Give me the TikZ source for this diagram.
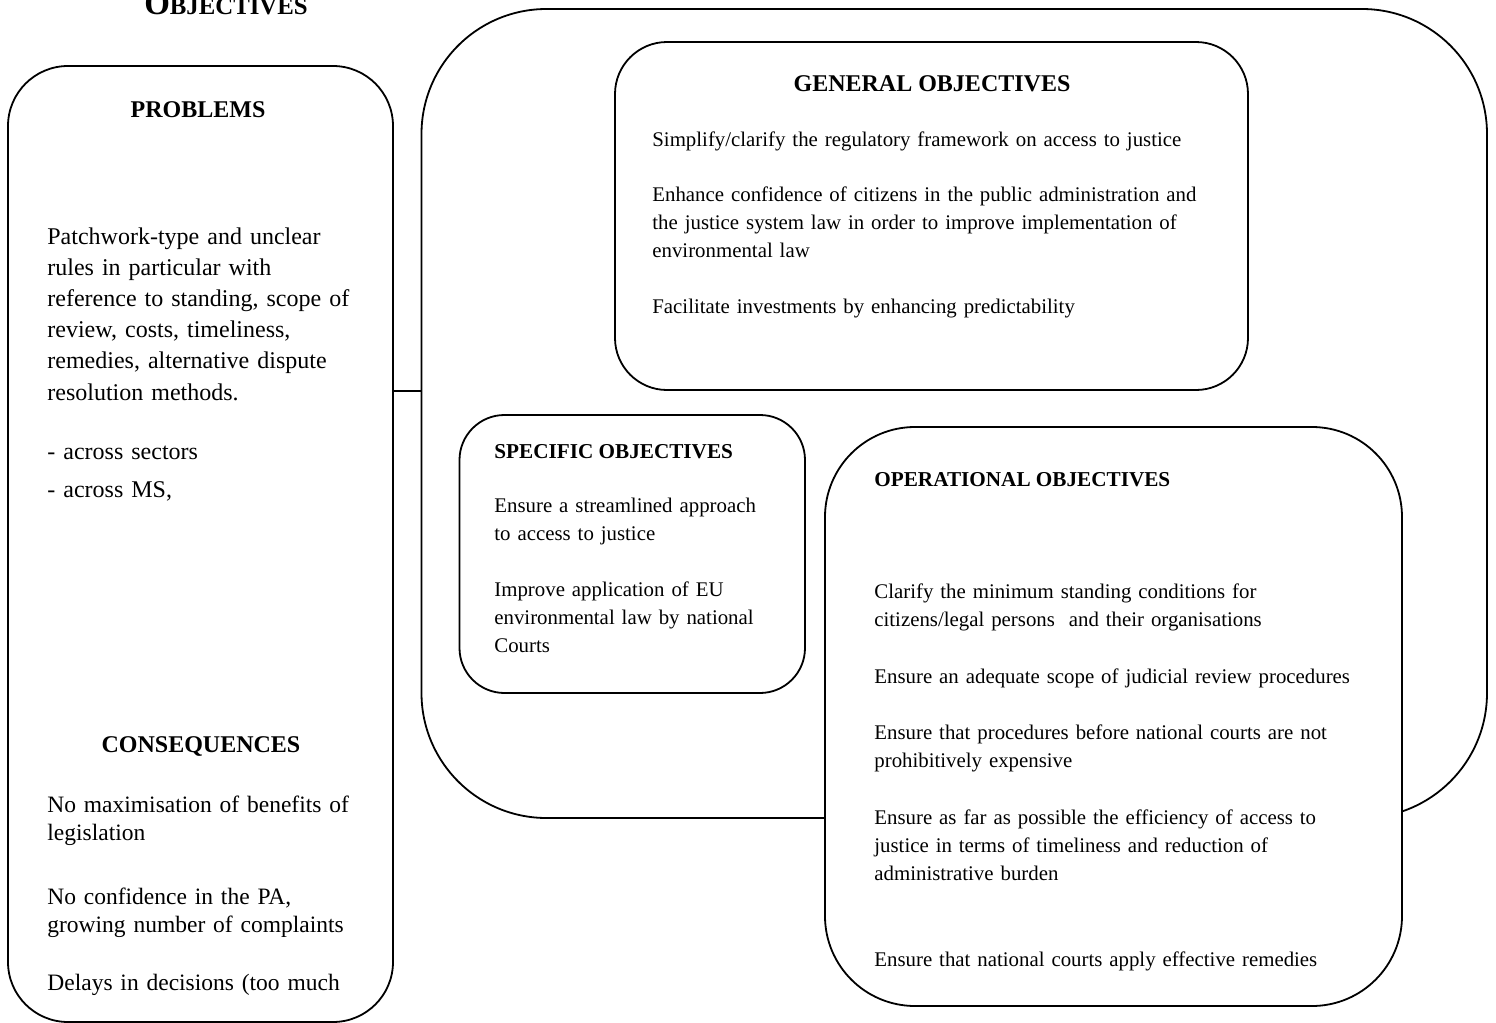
\documentclass[tikz,border=0pt]{standalone}
\usepackage{fontspec}
\setmainfont{Liberation Serif}

\begin{document}
\begin{tikzpicture}[x=0.5pt,y=-0.5pt,
  box/.style={draw,line width=0.9pt,inner sep=0pt,outer sep=0pt,fill=white},
  txt/.style={inner sep=0pt,anchor=base west,align=left,text width=300pt,font=\fontsize{10.42}{14}\selectfont},
  bigtxt/.style={txt,font=\fontsize{12}{15.6}\selectfont},
  constxt/.style={txt,font=\fontsize{11.75}{14}\selectfont},
  head/.style={inner sep=0pt,anchor=base,font=\fontsize{12}{14}\selectfont\bfseries},
  subhead/.style={inner sep=0pt,anchor=base west,font=\fontsize{10.6}{14}\selectfont\bfseries}]

\useasboundingbox (0,0) rectangle (1496,1023);

\node[inner sep=0pt,anchor=base,font=\bfseries] (title) at (226,14) {\fontsize{16.5}{18}\selectfont O\fontsize{12.4}{14}\selectfont BJECTIVES};

% left column
\node[box,rounded corners=30pt,minimum width=192.5pt,minimum height=478pt] (problems) at (200.5,544) {};
\node[head] (probhead) at (198,117) {PROBLEMS};
\node[bigtxt] (probtext) at (47,244) {Patchwork-type and unclear\\rules in particular with\\reference to standing, scope of\\review, costs, timeliness,\\remedies, alternative dispute\\resolution methods.};
\node[bigtxt] (sectors) at (47,459) {- across sectors};
\node[bigtxt] (states) at (47,497) {- across MS,};
\node[head] (conshead) at (201,752) {CONSEQUENCES};
\node[constxt] (cons1) at (47,812) {No maximisation of benefits of\\legislation};
\node[constxt] (cons2) at (47,904) {No confidence in the PA,\\growing number of complaints};
\node[constxt] (cons3) at (47,990) {Delays in decisions (too much};

% objectives
\node[box,rounded corners=62.5pt,minimum width=532.75pt,minimum height=404.5pt] (objectives) at (954.25,413.5) {};
\coordinate (link) at (0,391);
\draw[line width=0.9pt] (problems.east |- link) -- (objectives.west |- link);

\node[box,rounded corners=26pt,minimum width=316.5pt,minimum height=174pt] (general) at (931.5,216) {};
\node[head] (genhead) at (932,91) {GENERAL OBJECTIVES};
\node[txt] (gen1) at (652,146) {Simplify/clarify the regulatory framework on access to justice};
\node[txt] (gen2) at (652,201) {Enhance confidence of citizens in the public administration and\\the justice system law in order to improve implementation of\\environmental law};
\node[txt] (gen3) at (652,313) {Facilitate investments by enhancing predictability};

\node[box,rounded corners=22.5pt,minimum width=172.75pt,minimum height=139pt] (specific) at (632.25,554) {};
\node[subhead] (spechead) at (494,458) {SPECIFIC OBJECTIVES};
\node[txt] (spec1) at (494,512) {Ensure a streamlined approach\\to access to justice};
\node[txt] (spec2) at (494,596) {Improve application of EU\\environmental law by national\\Courts};

\node[box,rounded corners=45pt,minimum width=288.5pt,minimum height=289.5pt] (operational) at (1113.5,716.5) {};
\node[subhead] (ophead) at (874,486) {OPERATIONAL OBJECTIVES};
\node[txt] (op1) at (874,598) {Clarify the minimum standing conditions for\\citizens/legal persons~ and their organisations};
\node[txt] (op2) at (874,683) {Ensure an adequate scope of judicial review procedures};
\node[txt] (op3) at (874,739) {Ensure that procedures before national courts are not\\prohibitively expensive};
\node[txt] (op4) at (874,824) {Ensure as far as possible the efficiency of access to\\justice in terms of timeliness and reduction of\\administrative burden};
\node[txt] (op5) at (874,966) {Ensure that national courts apply effective remedies};

\end{tikzpicture}
\end{document}
